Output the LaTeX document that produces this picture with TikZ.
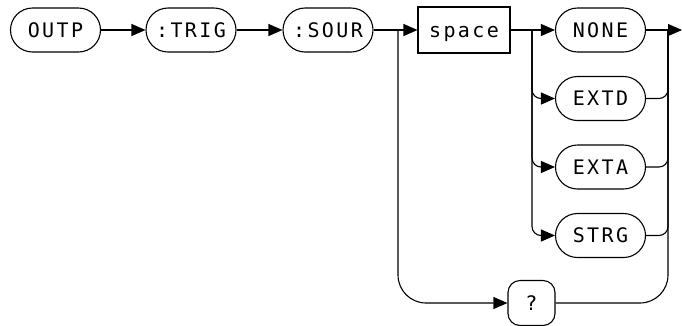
\documentclass[tikz,border=0pt]{standalone}
\usepackage{fontspec}
\newfontfamily\diafont{DejaVu Sans Mono}[LetterSpace=12]
\usetikzlibrary{arrows.meta}
\begin{document}
\begin{tikzpicture}[x=1pt,y=-1pt,line width=1.1pt,
  lbl/.style={font=\diafont\fontsize{20}{22}\selectfont,text height=16pt,text depth=2pt},
  pill/.style={lbl,draw,fill=white,rounded corners=22pt,minimum width=90pt,minimum height=44pt,inner sep=0pt},
  sbox/.style={lbl,draw,fill=white,minimum width=92pt,minimum height=46pt,inner sep=0pt},
  qbox/.style={lbl,draw,fill=white,rounded corners=12pt,minimum width=47pt,minimum height=45pt,inner sep=0pt},
  arr/.style={-{Triangle[length=14pt,width=12pt]}}]
\useasboundingbox (0,0) rectangle (682,325);
\node[pill] (outp) at (55.5,30) {OUTP};
\node[pill] (trig) at (191,30) {:TRIG};
\node[pill] (sour) at (328,30) {:SOUR};
\node[sbox] (space) at (464,30) {space};
\node[pill] (none) at (600.5,30) {NONE};
\node[pill] (extd) at (600.5,98.5) {EXTD};
\node[pill] (exta) at (600.5,167) {EXTA};
\node[pill] (strg) at (600.5,235.5) {STRG};
\node[qbox] (q) at (531.5,303) {?};
\coordinate (b1) at (398,30);
\coordinate (b2) at (532,30);
\coordinate (b3) at (668,30);
\coordinate (fin) at (682,30);
\draw[arr] (outp.east) -- (trig.west);
\draw[arr] (trig.east) -- (sour.west);
\draw[arr] (sour.east) -- (space.west);
\draw[arr,rounded corners=28pt] (b1) |- (q.west);
\draw (space.east) -- (b2);
\draw[arr] (b2) -- (none.west);
\draw[arr,rounded corners=9pt] (b2) |- (extd.west);
\draw[arr,rounded corners=9pt] (b2) |- (exta.west);
\draw[arr,rounded corners=9pt] (b2) |- (strg.west);
\draw (none.east) -- (b3);
\draw[arr] (b3) -- (fin);
\draw[rounded corners=9pt] (extd.east) -| (b3);
\draw[rounded corners=9pt] (exta.east) -| (b3);
\draw[rounded corners=9pt] (strg.east) -| (b3);
\draw[rounded corners=28pt] (q.east) -| (b3);
\end{tikzpicture}
\end{document}
